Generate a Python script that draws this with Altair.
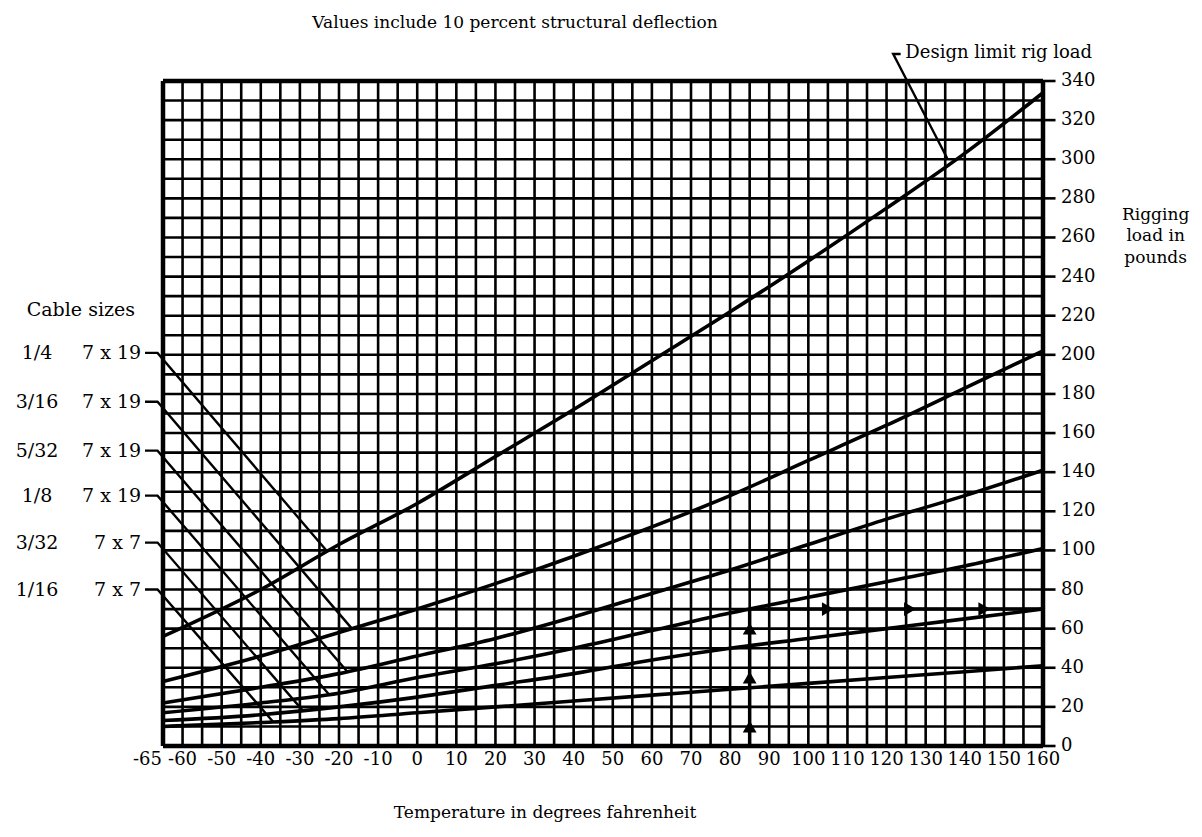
import altair as alt
import pandas as pd

# ---------------- data ----------------
temps = [-65, -40, -20, 0, 20, 40, 60, 80, 100, 120, 140, 160]
cables = ["1/4", "3/16", "5/32", "1/8", "3/32", "1/16"]
strands = ["7 x 19", "7 x 19", "7 x 19", "7 x 19", "7 x 7", "7 x 7"]
load_1_4 = [56, 80, 103, 124, 148, 172, 197, 222, 248, 275, 303, 334]
load_3_16 = [33, 46, 58, 70, 83, 97, 112, 128, 146, 164, 183, 202]
load_5_32 = [22, 30, 37, 46, 55, 66, 78, 90, 103, 116, 128, 141]
load_1_8 = [17, 22, 27, 35, 42, 50, 59, 68, 76, 84, 92, 101]
load_3_32 = [13, 16, 20, 25, 31, 37, 44, 50, 55, 60, 65, 70]
load_1_16 = [10, 12, 14, 17, 20, 23, 26, 29, 32, 35, 38, 41]
loads = [load_1_4, load_3_16, load_5_32, load_1_8, load_3_32, load_1_16]

# label rows of the cable key (in pounds) and where each pointer meets its curve
label_v = [201, 176, 151, 128, 104, 80]
leader_end_t = [-23, -16.7, -17.8, -22.6, -29.3, -36.8]
leader_end_v = [99.4, 60, 37.8, 26.5, 18.2, 12.3]

# worked example: 85 deg F, 1/8 cable -> 70 lb
example_t = 85
example_v = 70
arrow_up_v = [10, 35, 60]
arrow_right_t = [105, 126, 145]

x_tick_values = [-65, -60, -50, -40, -30, -20, -10, 0, 10, 20, 30, 40, 50, 60,
                 70, 80, 90, 100, 110, 120, 130, 140, 150, 160]
y_tick_values = [0, 20, 40, 60, 80, 100, 120, 140, 160, 180, 200, 220, 240,
                 260, 280, 300, 320, 340]
x_grid = list(range(-65, 161, 5))
y_grid = list(range(0, 341, 10))

FONT = "DejaVu Serif"
XMIN, XMAX, YMIN, YMAX = -65, 160, 0, 340

xs = alt.Scale(domain=[XMIN, XMAX], nice=False, zero=False)
ys = alt.Scale(domain=[YMIN, YMAX], nice=False, zero=False)


def X(field="t"):
    return alt.X(f"{field}:Q", scale=xs, axis=None)


def Y(field="v"):
    return alt.Y(f"{field}:Q", scale=ys, axis=None)


def XD(v):
    return alt.XDatum(v, scale=xs, axis=None)


def YD(v):
    return alt.YDatum(v, scale=ys, axis=None)


# ---------------- grid ----------------
vgrid = alt.Chart(pd.DataFrame({"t": x_grid})).mark_rule(
    color="black", strokeWidth=2.6
).encode(x=X(), y=YD(YMIN), y2=alt.Y2Datum(YMAX))

hgrid = alt.Chart(pd.DataFrame({"v": y_grid})).mark_rule(
    color="black", strokeWidth=2.6
).encode(y=Y(), x=XD(XMIN), x2=alt.X2Datum(XMAX))

vborder = alt.Chart(pd.DataFrame({"t": [XMIN, XMAX]})).mark_rule(
    color="black", strokeWidth=4.5
).encode(x=X(), y=YD(YMIN), y2=alt.Y2Datum(YMAX))

hborder = alt.Chart(pd.DataFrame({"v": [YMIN, YMAX]})).mark_rule(
    color="black", strokeWidth=4.5
).encode(y=Y(), x=XD(XMIN), x2=alt.X2Datum(XMAX))

# ---------------- axes drawn as marks ----------------
xt_df = pd.DataFrame({"t": x_tick_values, "lab": [str(v) for v in x_tick_values]})
x_first = alt.Chart(xt_df.iloc[:1]).mark_text(
    font=FONT, fontSize=18, color="black", align="right", baseline="top", dy=5, dx=-1
).encode(x=X(), y=YD(YMIN), text="lab:N")
x_labels = alt.Chart(xt_df.iloc[1:]).mark_text(
    font=FONT, fontSize=18, color="black", align="center", baseline="top", dy=5
).encode(x=X(), y=YD(YMIN), text="lab:N")

yt_df = pd.DataFrame({"v": y_tick_values, "lab": [str(v) for v in y_tick_values]})
y_ticks = alt.Chart(yt_df).mark_rule(color="black", strokeWidth=2.6, clip=False).encode(
    y=Y(), x=XD(XMAX), x2=alt.X2Datum(163.2))
y_labels = alt.Chart(yt_df).mark_text(
    font=FONT, fontSize=18, color="black", align="left", baseline="middle", dx=18
).encode(y=Y(), x=XD(XMAX), text="lab:N")

# ---------------- curves ----------------
rows = []
for c, series in zip(cables, loads):
    for t, v in zip(temps, series):
        rows.append({"cable": c, "t": t, "v": v})
curve_df = pd.DataFrame(rows)

curves = alt.Chart(curve_df).mark_line(
    color="black", strokeWidth=3.6, interpolate="monotone"
).encode(x=X(), y=Y(), detail="cable:N")

# ---------------- key pointers ----------------
lrows = []
for c, lv, et, ev in zip(cables, label_v, leader_end_t, leader_end_v):
    lrows.append({"cable": c, "o": 0, "t": -69.6, "v": lv})
    lrows.append({"cable": c, "o": 1, "t": -66.4, "v": lv})
    lrows.append({"cable": c, "o": 2, "t": et, "v": ev})
leaders = alt.Chart(pd.DataFrame(lrows)).mark_line(
    color="black", strokeWidth=2.4, clip=False
).encode(x=X(), y=Y(), detail="cable:N", order="o:Q")

key_df = pd.DataFrame({"size": cables, "strand": strands, "v": label_v})
key_size = alt.Chart(key_df).mark_text(
    font=FONT, fontSize=19, color="black", align="center", baseline="middle"
).encode(x=XD(-97.2), y=Y(), text="size:N")
key_strand = alt.Chart(key_df).mark_text(
    font=FONT, fontSize=19, color="black", align="right", baseline="middle"
).encode(x=XD(-70.6), y=Y(), text="strand:N")
key_head = alt.Chart(pd.DataFrame({"txt": ["Cable sizes"]})).mark_text(
    font=FONT, fontSize=19, color="black", align="center", baseline="middle"
).encode(x=XD(-86), y=YD(223), text="txt:N")

# ---------------- worked example arrows ----------------
up_line = alt.Chart(pd.DataFrame({"t": [example_t]})).mark_rule(
    color="black", strokeWidth=3.5
).encode(x=X(), y=YD(0), y2=alt.Y2Datum(example_v))
right_line = alt.Chart(pd.DataFrame({"v": [example_v]})).mark_rule(
    color="black", strokeWidth=3.5
).encode(y=Y(), x=XD(example_t), x2=alt.X2Datum(XMAX))
up_heads = alt.Chart(pd.DataFrame({"v": arrow_up_v})).mark_point(
    shape="triangle-up", filled=True, color="black", size=190, opacity=1
).encode(x=XD(example_t), y=Y())
right_heads = alt.Chart(pd.DataFrame({"t": arrow_right_t})).mark_point(
    shape="triangle-right", filled=True, color="black", size=190, opacity=1
).encode(x=X(), y=YD(example_v))

# ---------------- annotations ----------------
design_ptr = alt.Chart(pd.DataFrame({
    "o": [0, 1, 2], "t": [123.6, 121.7, 135.5], "v": [353.8, 353.8, 300.5]
})).mark_line(color="black", strokeWidth=2.4, clip=False).encode(
    x=X(), y=Y(), order="o:Q")
design_txt = alt.Chart(pd.DataFrame({"txt": ["Design limit rig load"]})).mark_text(
    font=FONT, fontSize=18, color="black", align="left", baseline="middle"
).encode(x=XD(124.8), y=YD(354.5), text="txt:N")

title_txt = alt.Chart(pd.DataFrame({"txt": ["Values include 10 percent structural deflection"]})).mark_text(
    font=FONT, fontSize=17, color="black", align="center", baseline="middle"
).encode(x=XD(25), y=YD(369.5), text="txt:N")

xtitle_txt = alt.Chart(pd.DataFrame({"txt": ["Temperature in degrees fahrenheit"]})).mark_text(
    font=FONT, fontSize=17, color="black", align="center", baseline="middle"
).encode(x=XD(32.7), y=YD(-34), text="txt:N")

rig_df = pd.DataFrame({"txt": ["Rigging", "load in", "pounds"], "v": [271.5, 260.5, 249.5]})
rig_txt = alt.Chart(rig_df).mark_text(
    font=FONT, fontSize=17, color="black", align="center", baseline="middle"
).encode(x=XD(188.8), y=Y(), text="txt:N")

chart = alt.layer(
    vgrid, hgrid, vborder, hborder, x_first, x_labels, y_ticks, y_labels,
    curves, leaders, key_size, key_strand, key_head,
    up_line, right_line, up_heads, right_heads, design_ptr, design_txt,
    title_txt, xtitle_txt, rig_txt,
).properties(
    width=880, height=665,
    autosize=alt.AutoSizeParams(type="none"),
    padding={"left": 155, "top": 73, "right": 151, "bottom": 82},
    background="white",
).configure_view(stroke=None)

chart.save("out.html", embed_options={"renderer": "svg", "actions": False})
